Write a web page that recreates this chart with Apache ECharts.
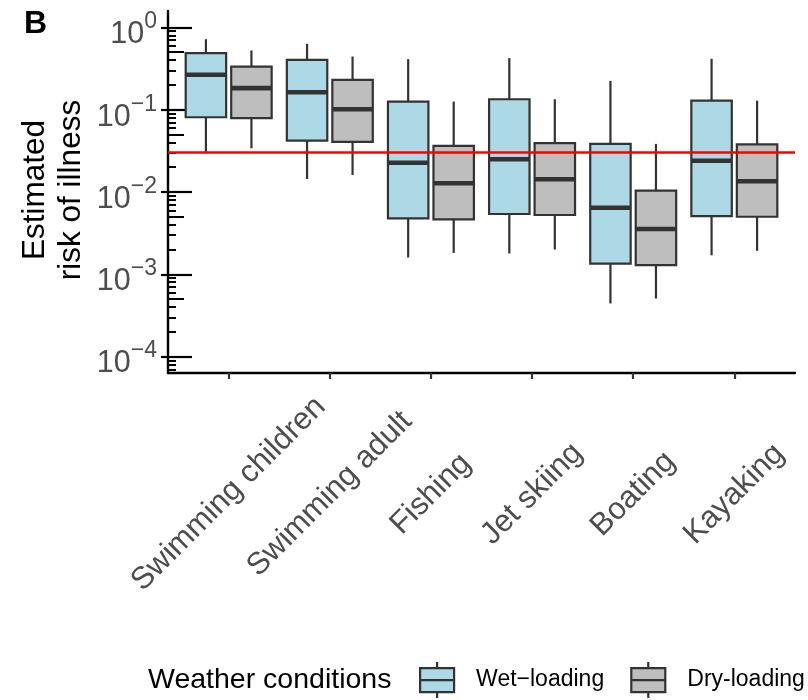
<!DOCTYPE html>
<html>
<head>
<meta charset="utf-8">
<title>Estimated risk of illness</title>
<script src="https://cdn.jsdelivr.net/npm/echarts@6/dist/echarts.min.js"></script>
<style>
  html, body { margin: 0; padding: 0; background: #fff; }
  #chart { width: 808px; height: 700px; }
</style>
</head>
<body>
<div id="chart"></div>
<script>
// 活动类别（x 轴）
const categories = ['Swimming children', 'Swimming adult', 'Fishing', 'Jet skiing', 'Boating', 'Kayaking'];

// 箱线统计量: [min, Q1, median, Q3, max]
const wetLoading = [
    [0.0296, 0.081, 0.266, 0.488, 0.72],
    [0.0144, 0.0421, 0.163, 0.404, 0.633],
    [0.0016, 0.00478, 0.0227, 0.1257, 0.412],
    [0.00179, 0.0054, 0.025, 0.134, 0.424],
    [0.000442, 0.00135, 0.00644, 0.0384, 0.2245],
    [0.0017, 0.0051, 0.024, 0.129, 0.416]
];
const dryLoading = [
    [0.034, 0.0789, 0.183, 0.335, 0.525],
    [0.0161, 0.0406, 0.1015, 0.231, 0.443],
    [0.00182, 0.00465, 0.01276, 0.0363, 0.1257],
    [0.002, 0.00525, 0.01427, 0.0392, 0.134],
    [0.000508, 0.00129, 0.00355, 0.01037, 0.0384],
    [0.00193, 0.005, 0.0135, 0.038, 0.129]
];

// 基准线 (32 / 1000)
const benchmark = 0.032;

// y 轴刻度
const yExponents = [-4, -3, -2, -1, 0];
const midMultipliers = [5];
const minorMultipliers = [2, 3, 4, 6, 7, 8, 9];

const seriesNames = ['Wet\u2212loading', 'Dry-loading'];

// 样式常量
const FONT = '"Liberation Sans", Arial, Helvetica, sans-serif';
const Y_MIN = Math.pow(10, -4.2);
const Y_MAX = Math.pow(10, 0.2);
const DODGE = 0.225;
const BOX_HALF = 0.2;
const EDGE = '#333333';
const BOX_ICON = 'path://M17,0V6M0,6H34V30H0ZM0,18H34M17,30V36';

/**
 * 生成对数刻度值
 */
function logTicks(mults) {
    const out = [];
    for (let e = -5; e <= 0; e++) {
        mults.forEach(m => {
            const v = m * Math.pow(10, e);
            if (v >= Y_MIN && v <= Y_MAX) out.push(v);
        });
    }
    return out;
}

/**
 * 箱线图绘制
 */
function boxRenderer(shift, fill) {
    return function (params, api) {
        const x = api.value(0) + shift;
        const at = v => api.coord([x, v]);
        const lo = at(api.value(1));
        const q1 = at(api.value(2));
        const md = at(api.value(3));
        const q3 = at(api.value(4));
        const hi = at(api.value(5));
        const left = api.coord([x - BOX_HALF, api.value(3)])[0];
        const right = api.coord([x + BOX_HALF, api.value(3)])[0];
        const cx = md[0];
        const whisker = { stroke: EDGE, lineWidth: 2.2 };
        return {
            type: 'group',
            children: [
                { type: 'line', shape: { x1: cx, y1: hi[1], x2: cx, y2: q3[1] }, style: whisker },
                { type: 'line', shape: { x1: cx, y1: q1[1], x2: cx, y2: lo[1] }, style: whisker },
                {
                    type: 'rect',
                    shape: { x: left, y: q3[1], width: right - left, height: q1[1] - q3[1] },
                    style: { fill: fill, stroke: EDGE, lineWidth: 2.2 }
                },
                { type: 'line', shape: { x1: left, y1: md[1], x2: right, y2: md[1] }, style: { stroke: EDGE, lineWidth: 4.6 } }
            ]
        };
    };
}

function hiddenYAxis() {
    return {
        type: 'log',
        logBase: 10,
        min: Y_MIN,
        max: Y_MAX,
        position: 'left',
        splitLine: { show: false },
        axisLine: { show: false, onZero: false },
        axisLabel: { show: false },
        axisTick: { show: false }
    };
}

function insideTicks(values, len, width) {
    const ax = hiddenYAxis();
    ax.axisTick = {
        show: true,
        inside: true,
        length: len,
        customValues: values,
        lineStyle: { color: '#000', width: width }
    };
    return ax;
}

const majorValues = yExponents.map(e => Math.pow(10, e));

const yMain = hiddenYAxis();
yMain.axisLine = { show: true, onZero: false, lineStyle: { color: '#000', width: 2.4 } };
yMain.axisTick = { show: true, inside: false, length: 7, customValues: majorValues, lineStyle: { color: '#000', width: 2.2 } };
yMain.axisLabel = {
    show: true,
    customValues: majorValues,
    margin: 11,
    padding: [6, 0, 0, 0],
    formatter: v => {
        const e = Math.round(Math.log10(v));
        return '{b|10}{s|' + (e < 0 ? '\u2212' + (-e) : String(e)) + '}';
    },
    rich: {
        b: { fontSize: 30.5, color: '#4d4d4d', fontFamily: FONT, lineHeight: 40, verticalAlign: 'bottom' },
        s: { fontSize: 23, color: '#4d4d4d', fontFamily: FONT, lineHeight: 18, verticalAlign: 'top' }
    }
};
yMain.name = 'Estimated\nrisk of illness';
yMain.nameLocation = 'middle';
yMain.nameRotate = 90;
yMain.nameGap = 79;
yMain.nameMoveOverlap = false;
yMain.nameTextStyle = { fontSize: 31.5, lineHeight: 36, color: '#000', fontFamily: FONT, padding: [0, 0, 0, 4] };

const chart = echarts.init(document.getElementById('chart'), null, { renderer: 'canvas' });

chart.setOption({
    animation: false,
    backgroundColor: '#fff',
    textStyle: { fontFamily: FONT },
    title: [
        { text: 'B', left: 24, top: 8, padding: 0, textStyle: { fontSize: 32, fontWeight: 'bold', color: '#000', fontFamily: FONT } },
        { text: 'Weather conditions', left: 148, top: 666, padding: 0, textStyle: { fontSize: 28.5, fontWeight: 'normal', color: '#000', fontFamily: FONT } }
    ],
    legend: {
        left: 419,
        top: 661,
        padding: 0,
        orient: 'horizontal',
        itemWidth: 34,
        itemHeight: 36,
        itemGap: 26,
        selectedMode: false,
        itemStyle: { borderColor: EDGE, borderWidth: 2.2 },
        textStyle: { fontSize: 23, color: '#000', fontFamily: FONT, padding: [0, 0, 0, 17] },
        data: seriesNames.map(n => ({ name: n, icon: BOX_ICON }))
    },
    grid: {
        left: 168,
        right: 13,
        top: 11,
        bottom: 327,
        containLabel: false,
        outerBoundsMode: 'none'
    },
    xAxis: {
        type: 'value',
        min: -0.6,
        max: 5.6,
        splitLine: { show: false },
        axisLine: { show: true, onZero: false, lineStyle: { color: '#000', width: 2.4 } },
        axisTick: { show: true, length: 6, customValues: categories.map((c, i) => i), lineStyle: { color: EDGE, width: 2.2 } },
        axisLabel: {
            show: true,
            customValues: categories.map((c, i) => i),
            rotate: 45,
            align: 'center',
            verticalAlign: 'middle',
            margin: 121,
            fontSize: 31,
            color: '#4d4d4d',
            fontFamily: FONT,
            formatter: v => categories[Math.round(v)]
        }
    },
    yAxis: [
        yMain,
        insideTicks(majorValues, 24, 2.2),
        insideTicks(logTicks(midMultipliers), 16, 2),
        insideTicks(logTicks(minorMultipliers), 8, 2)
    ],
    series: [
        {
            name: seriesNames[0],
            type: 'custom',
            xAxisIndex: 0,
            yAxisIndex: 0,
            itemStyle: { color: '#ADD8E6' },
            dimensions: ['x', 'min', 'q1', 'median', 'q3', 'max'],
            encode: { x: 0, y: [1, 2, 3, 4, 5] },
            renderItem: boxRenderer(-DODGE, '#ADD8E6'),
            data: categories.map((c, i) => [i].concat(wetLoading[i]))
        },
        {
            name: seriesNames[1],
            type: 'custom',
            xAxisIndex: 0,
            yAxisIndex: 0,
            itemStyle: { color: '#BEBEBE' },
            dimensions: ['x', 'min', 'q1', 'median', 'q3', 'max'],
            encode: { x: 0, y: [1, 2, 3, 4, 5] },
            renderItem: boxRenderer(DODGE, '#BEBEBE'),
            data: categories.map((c, i) => [i].concat(dryLoading[i])),
            markLine: {
                silent: true,
                symbol: 'none',
                label: { show: false },
                lineStyle: { color: '#FF0000', width: 2.6, type: 'solid' },
                data: [{ yAxis: benchmark }]
            }
        }
    ]
});
</script>
</body>
</html>
